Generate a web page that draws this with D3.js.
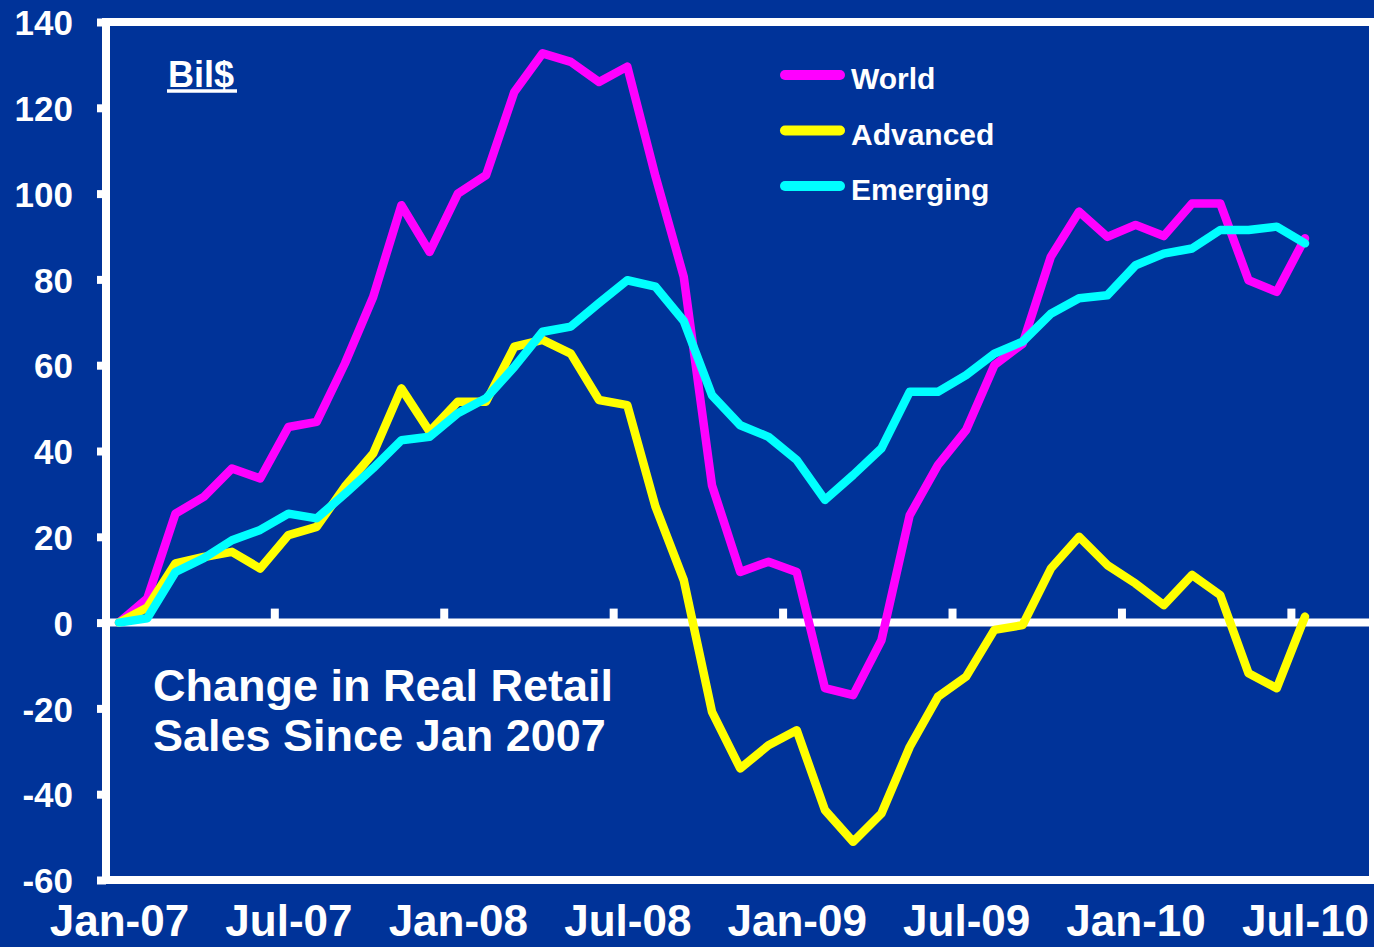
<!DOCTYPE html>
<html>
<head>
<meta charset="utf-8">
<script src="https://cdn.jsdelivr.net/npm/d3@7"></script>
<style>
    body { margin: 0; background: #003399; }
    svg { display: block; }
    text { font-family: 'Liberation Sans', Arial, sans-serif; font-weight: bold; fill: #fff; }
</style>
</head>
<body>
<script>
(function(d3) {
    'use strict';

    var months = ['Jan-07', 'Feb-07', 'Mar-07', 'Apr-07', 'May-07', 'Jun-07', 'Jul-07', 'Aug-07', 'Sep-07', 'Oct-07', 'Nov-07', 'Dec-07',
        'Jan-08', 'Feb-08', 'Mar-08', 'Apr-08', 'May-08', 'Jun-08', 'Jul-08', 'Aug-08', 'Sep-08', 'Oct-08', 'Nov-08', 'Dec-08',
        'Jan-09', 'Feb-09', 'Mar-09', 'Apr-09', 'May-09', 'Jun-09', 'Jul-09', 'Aug-09', 'Sep-09', 'Oct-09', 'Nov-09', 'Dec-09',
        'Jan-10', 'Feb-10', 'Mar-10', 'Apr-10', 'May-10', 'Jun-10', 'Jul-10'];

    var xTickLabels = ['Jan-07', 'Jul-07', 'Jan-08', 'Jul-08', 'Jan-09', 'Jul-09', 'Jan-10', 'Jul-10'];
    var yTicks = [-60, -40, -20, 0, 20, 40, 60, 80, 100, 120, 140];

    var world = [0, 5.6, 25.4, 29.3, 35.9, 33.6, 45.6, 46.8, 60.4, 75.9, 97.3, 86.4,
        100, 104.3, 123.7, 132.7, 130.7, 126, 129.6, 104, 80.6, 32, 11.8, 14.2,
        11.8, -15.3, -16.9, -4.1, 25, 36.7, 44.9, 60, 65, 85.3, 95.8, 89.9,
        92.7, 90.1, 97.7, 97.7, 79.8, 77.1, 89.6];

    var advanced = [0, 3.5, 13.8, 15.3, 16.5, 12.6, 20.4, 22.3, 31.7, 39.4, 54.6, 44.5,
        51.5, 51.5, 64.3, 65.9, 62.7, 51.9, 50.7, 27, 9.9, -20.8, -34, -28.6,
        -25.1, -43.7, -51.1, -44.5, -29, -17.3, -12.6, -1.7, -0.6, 12.6, 20, 13.4,
        9.1, 4.1, 11.1, 6.4, -11.8, -15.3, 1.4];

    var emerging = [0, 1, 11.8, 15, 19.2, 21.6, 25.4, 24.3, 30, 36, 42.5, 43.3,
        48.8, 52.3, 59.6, 67.8, 69, 74.5, 79.8, 78.3, 70.3, 53, 46, 43.3,
        37.9, 28.6, 34.4, 40.6, 53.8, 53.8, 57.7, 62.7, 65.5, 72, 75.6, 76.3,
        83.3, 86, 87.2, 91.5, 91.5, 92.3, 88.4];

    var seriesNames = ['World', 'Advanced', 'Emerging'];
    var seriesColors = ['#ff00ff', '#ffff00', '#00ffff'];

    var settings = {
        width: 1374,
        height: 947,
        frameLeft: 106,
        frameRight: 1373,
        frameTop: 22,
        frameBottom: 880,
        firstX: 119,
        lastX: 1305,
        frameWidth: 8
    };

    var svg = d3.select('body')
        .append('svg')
        .attr('width', settings.width)
        .attr('height', settings.height);

    svg.append('rect')
        .attr('width', settings.width)
        .attr('height', settings.height)
        .attr('fill', '#003399');

    var x = d3.scalePoint()
        .domain(months)
        .range([settings.firstX, settings.lastX]);

    // linear version of x, used for the tick marks sitting between months
    var xi = d3.scaleLinear()
        .domain([0, months.length - 1])
        .range([settings.firstX, settings.lastX]);

    var y = d3.scaleLinear()
        .domain([-60, 140])
        .range([settings.frameBottom, settings.frameTop]);

    // frame
    svg.append('rect')
        .attr('x', settings.frameLeft)
        .attr('y', settings.frameTop)
        .attr('width', settings.frameRight - settings.frameLeft)
        .attr('height', settings.frameBottom - settings.frameTop)
        .attr('fill', 'none')
        .attr('stroke', '#fff')
        .attr('stroke-width', settings.frameWidth);

    // y axis (plain hyphen for negatives, like the original)
    var yAxis = svg.append('g')
        .attr('transform', 'translate(' + settings.frameLeft + ',0)')
        .call(d3.axisLeft(y).tickValues(yTicks).tickSize(9).tickPadding(24)
            .tickFormat(function(d) { return String(d); }));
    yAxis.select('.domain').remove();
    yAxis.selectAll('line').attr('stroke', '#fff').attr('stroke-width', 8);
    yAxis.selectAll('text')
        .attr('fill', '#fff')
        .style('font-size', '35px')
        .attr('dy', '0.36em');

    // x labels
    var xAxis = svg.append('g')
        .attr('transform', 'translate(0,' + settings.frameBottom + ')')
        .call(d3.axisBottom(x).tickValues(xTickLabels).tickSize(0).tickPadding(25));
    xAxis.select('.domain').remove();
    xAxis.selectAll('text')
        .attr('fill', '#fff')
        .style('font-size', '44px');

    // zero line with tick marks between categories
    svg.append('line')
        .attr('x1', settings.frameLeft)
        .attr('x2', settings.frameRight)
        .attr('y1', y(0))
        .attr('y2', y(0))
        .attr('stroke', '#fff')
        .attr('stroke-width', 8);

    var zeroTicks = d3.range(6, months.length + 1, 6).map(function(i) { return i - 0.5; });
    var zAxis = svg.append('g')
        .attr('transform', 'translate(0,' + y(0) + ')')
        .call(d3.axisTop(xi).tickValues(zeroTicks).tickSize(14).tickFormat(''));
    zAxis.select('.domain').remove();
    zAxis.selectAll('line').attr('stroke', '#fff').attr('stroke-width', 8);

    // lines
    var line = d3.line()
        .x(function(d, i) { return x(months[i]); })
        .y(function(d) { return y(d); });

    [world, advanced, emerging].forEach(function(values, k) {
        svg.append('path')
            .datum(values)
            .attr('d', line)
            .attr('fill', 'none')
            .attr('stroke', seriesColors[k])
            .attr('stroke-width', 8.5)
            .attr('stroke-linejoin', 'round')
            .attr('stroke-linecap', 'round');
    });

    // legend
    var legend = svg.selectAll('.legend')
        .data(seriesNames)
        .enter()
        .append('g')
        .attr('class', 'legend')
        .attr('transform', function(d, i) { return 'translate(785,' + (75 + i * 55.5) + ')'; });

    legend.append('line')
        .attr('x1', 0)
        .attr('x2', 55)
        .attr('stroke', function(d, i) { return seriesColors[i]; })
        .attr('stroke-width', 10)
        .attr('stroke-linecap', 'round');

    legend.append('text')
        .attr('x', 66)
        .attr('y', 14)
        .style('font-size', '30px')
        .text(function(d) { return d; });

    // unit label
    svg.append('text')
        .attr('x', 168)
        .attr('y', 87)
        .style('font-size', '36px')
        .text('Bil$');
    svg.append('line')
        .attr('x1', 167)
        .attr('x2', 237)
        .attr('y1', 91)
        .attr('y2', 91)
        .attr('stroke', '#fff')
        .attr('stroke-width', 3.5);

    // caption
    svg.append('text')
        .attr('x', 153)
        .attr('y', 701)
        .style('font-size', '45px')
        .text('Change in Real Retail');
    svg.append('text')
        .attr('x', 153)
        .attr('y', 751)
        .style('font-size', '45px')
        .text('Sales Since Jan 2007');

})(window.d3);
</script>
</body>
</html>
